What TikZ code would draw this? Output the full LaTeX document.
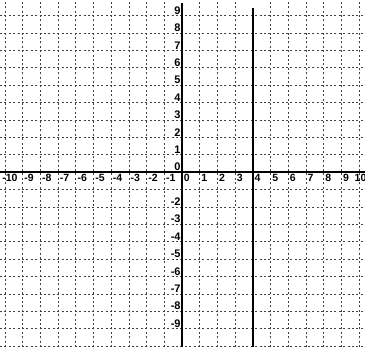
\documentclass[tikz,border=0pt]{standalone}
\usepackage{fontspec}
\setmainfont{Liberation Sans}
\begin{document}
\begin{tikzpicture}[x=17.7pt,y=17.4pt,
  gridline/.style={black!75, line width=0.6pt, dash pattern=on 2pt off 2.4pt},
  axisline/.style={black, line width=1.5pt},
  boldline/.style={black, line width=2pt},
  xlab/.style={anchor=north west, inner sep=0pt, font=\bfseries\fontsize{10.5}{10.5}\selectfont, xshift=1.6pt, yshift=-2.2pt},
  ylab/.style={anchor=south east, inner sep=0pt, font=\bfseries\fontsize{11}{11}\selectfont, xshift=-1.2pt, yshift=1pt}]
\useasboundingbox (-10.28,-10.06) rectangle (10.34,9.885);
\fill[white] (-10.28,-10.06) rectangle (10.34,9.885);
\clip (-10.28,-10.06) rectangle (10.34,9.885);
% horizontal grid lines
\foreach \y in {-10,...,-1,1,2,...,9}
  \draw[gridline] (-10.28,\y) -- (10.34,\y);
% vertical grid lines
\foreach \x in {-10,...,-1,1,2,3,5,6,...,10}
  \draw[gridline] (\x,-10.06) -- (\x,9.885);
% axes
\draw[axisline] (-10.28,0) -- (10.34,0);
\draw[axisline] (0,-10.06) -- (0,9.7);
% the line x = 4
\draw[boldline] (4,-10.06) -- (4,9.45);
% x labels
\foreach \x in {-9,...,-1,0,1,...,9}
  \node[xlab] (xl\x) at (\x,0) {\x};
\node[xlab, xshift=-4.5pt] (xlm10) at (-10,0) {-10};
\node[xlab, anchor=north east, xshift=0pt] (xl10) at (10.34,0) {10};
% y labels
\foreach \y in {0,1,...,9}
  \node[ylab] (yl\y) at (0,\y) {\y};
\foreach \y in {-9,...,-2}
  \node[ylab] (yl\y) at (0,\y) {\y};
\end{tikzpicture}
\end{document}
